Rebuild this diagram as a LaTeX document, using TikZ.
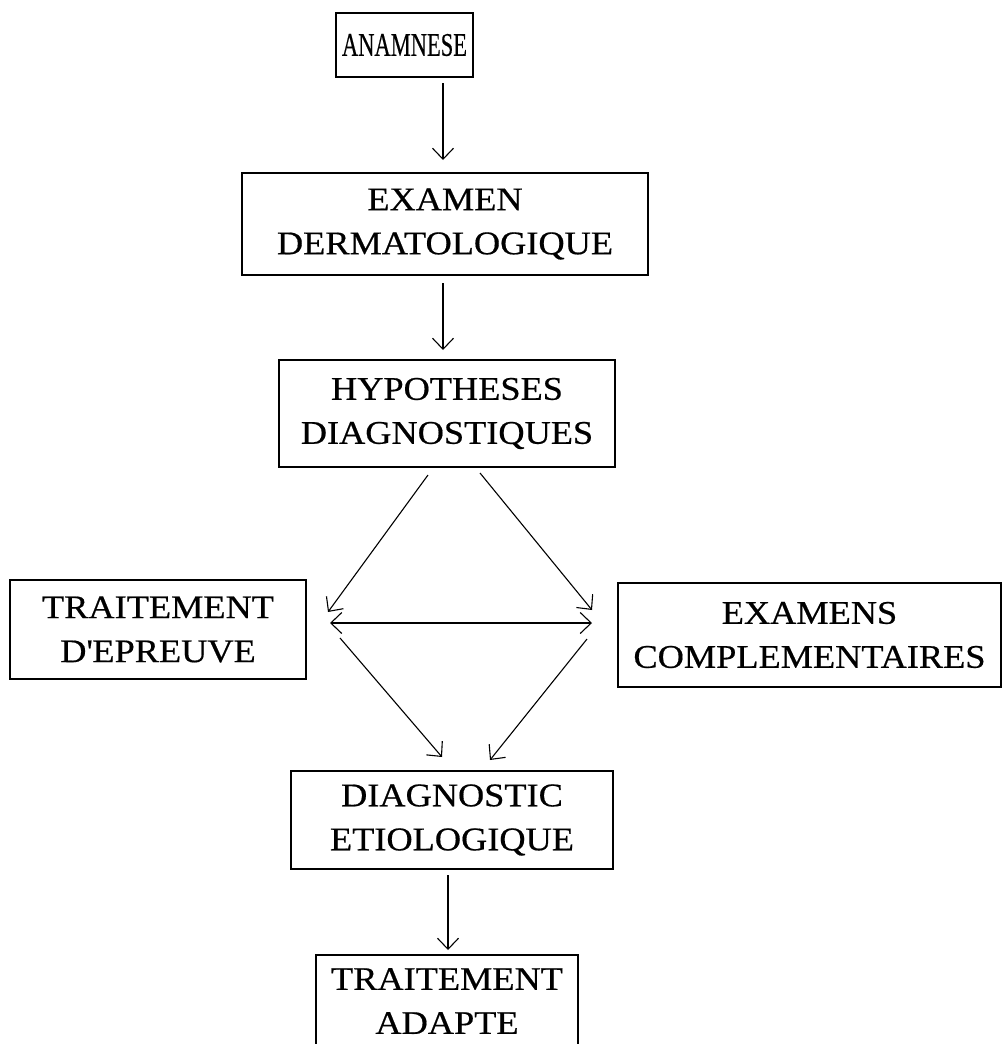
\documentclass[tikz,border=0pt]{standalone}
\usepackage{graphicx}
\usepackage{fontspec}
\setmainfont{Liberation Serif}[FakeStretch=1.1,FakeBold=0.5]
\usetikzlibrary{arrows.meta}
\begin{document}
\begin{tikzpicture}[x=1pt,y=-1pt,
  box/.style={draw, line width=1.6pt, inner sep=0pt, align=center,
    font=\fontsize{33}{44}\selectfont},
  tip/.style={Straight Barb[length=11pt,width=21pt,line width=1.1pt]},
  arr/.style={line width=1.1pt, -{Straight Barb[length=11pt,width=21pt,line width=1.1pt]}},
  darr/.style={line width=1.1pt, {Straight Barb[length=11pt,width=21pt,line width=1.1pt]}-{Straight Barb[length=11pt,width=21pt,line width=1.1pt]}}
]
\useasboundingbox[fill=white] (0,0) rectangle (1003,1044);

\node[box, minimum width=137pt, minimum height=64pt] (ana) at (404.5,45) {\scalebox{0.62}[1]{ANAMNESE}};
\node[box, minimum width=406pt, minimum height=102pt] (exa) at (445,224) {EXAMEN\\DERMATOLOGIQUE};
\node[box, minimum width=336pt, minimum height=107pt] (hyp) at (447,413.5) {HYPOTHESES\\DIAGNOSTIQUES};
\node[box, minimum width=296pt, minimum height=99pt] (trt) at (158,629.5) {TRAITEMENT\\D\textquotesingle EPREUVE};
\node[box, minimum width=383pt, minimum height=104pt] (exc) at (809.5,635) {EXAMENS\\COMPLEMENTAIRES};
\node[box, minimum width=322pt, minimum height=98pt] (dia) at (452,820) {DIAGNOSTIC\\ETIOLOGIQUE};
\node[box, minimum width=262pt, minimum height=130pt] (ada) at (447,1020) {};
\node[font=\fontsize{33}{44}\selectfont, align=center, inner sep=0pt] (adatxt) at (447,1001) {TRAITEMENT\\ADAPTE};

\coordinate (a1s) at (443,83);   \coordinate (a1e) at (443,160);
\coordinate (a2s) at (443,283);  \coordinate (a2e) at (443,350);
\coordinate (dls) at (428,475);  \coordinate (dle) at (328,612);
\coordinate (drs) at (480,473);  \coordinate (dre) at (592,610);
\coordinate (hl) at (330,623);   \coordinate (hr) at (592,623);
\coordinate (lls) at (340,638);  \coordinate (lle) at (442,757);
\coordinate (lrs) at (587,639);  \coordinate (lre) at (490,760);
\coordinate (a3s) at (448,875);  \coordinate (a3e) at (448,950);

\draw[arr] (a1s) -- (a1e);
\draw[arr] (a2s) -- (a2e);
\draw[arr] (dls) -- (dle);
\draw[arr] (drs) -- (dre);
\draw[darr] (hl) -- (hr);
\draw[arr] (lls) -- (lle);
\draw[arr] (lrs) -- (lre);
\draw[arr] (a3s) -- (a3e);
\end{tikzpicture}
\end{document}
